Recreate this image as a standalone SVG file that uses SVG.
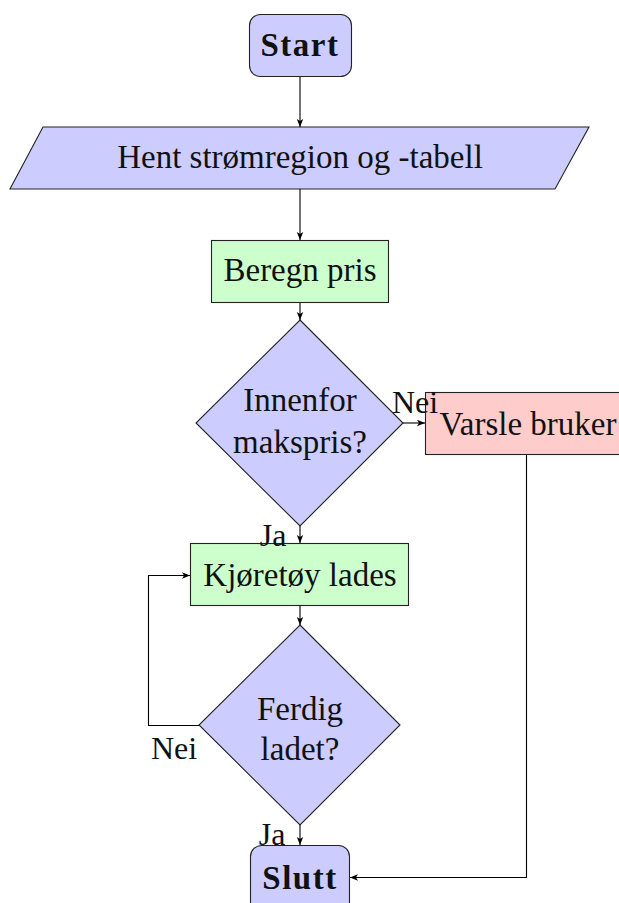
<svg xmlns="http://www.w3.org/2000/svg" width="619" height="903" viewBox="0 0 619 903">
  <defs>
    <marker id="arrow" viewBox="0 0 10 10" refX="10" refY="5" markerWidth="8" markerHeight="8" markerUnits="userSpaceOnUse" orient="auto">
      <path d="M0,1 L10,5 L0,9 L2.5,5 Z" fill="#000"/>
    </marker>
    <style>
      .node { stroke: #222; stroke-width: 1.1; }
      .blue { fill: #ccccff; }
      .green { fill: #ccffcc; }
      .red { fill: #ffcccc; }
      text { font-family: "Liberation Serif", "DejaVu Serif", serif; font-size: 33px; fill: #111; text-anchor: middle; }
      .bold { font-weight: bold; font-size: 33px; letter-spacing: 1.5px; }
      .edge { fill: none; stroke: #000; stroke-width: 1.1; marker-end: url(#arrow); }
      .lbl { font-size: 32px; }
    </style>
  </defs>

  <g id="start">
    <rect class="node blue" x="249.5" y="14.5" width="102" height="62" rx="11"/>
    <text class="bold" x="300" y="56">Start</text>
  </g>

  <g id="input">
    <polygon class="node blue" points="43,127 589,127 555,189 10,189"/>
    <text x="300" y="168">Hent strømregion og -tabell</text>
  </g>

  <g id="calc">
    <rect class="node green" x="211.5" y="240.5" width="177" height="62"/>
    <text x="300" y="281">Beregn pris</text>
  </g>

  <g id="check-price">
    <polygon class="node blue" points="300,320 403,423 300,526 196,423"/>
    <text x="300" y="411">Innenfor</text>
    <text x="300" y="453">makspris?</text>
  </g>

  <g id="notify">
    <rect class="node red" x="425.5" y="392.5" width="200" height="62"/>
    <text x="528" y="435">Varsle bruker</text>
  </g>

  <g id="charging">
    <rect class="node green" x="190.5" y="543.5" width="218" height="62"/>
    <text x="300" y="586">Kjøretøy lades</text>
  </g>

  <g id="check-done">
    <polygon class="node blue" points="300,625 400,725 300,825 199,725"/>
    <text x="300" y="720">Ferdig</text>
    <text x="300" y="760">ladet?</text>
  </g>

  <g id="end">
    <rect class="node blue" x="250.5" y="845.5" width="99" height="70" rx="11"/>
    <text class="bold" x="300" y="889">Slutt</text>
  </g>

  <g id="connectors">
    <line class="edge" x1="300" y1="77" x2="300" y2="127"/>
    <line class="edge" x1="300" y1="189" x2="300" y2="240"/>
    <line class="edge" x1="300" y1="303" x2="300" y2="320"/>
    <line class="edge" x1="403" y1="423" x2="425" y2="423"/>
    <line class="edge" x1="300" y1="526" x2="300" y2="543"/>
    <line class="edge" x1="300" y1="606" x2="300" y2="625"/>
    <polyline class="edge" points="199,725.5 148.5,725.5 148.5,575.5 190,575.5"/>
    <line class="edge" x1="300" y1="825" x2="300" y2="845"/>
    <polyline class="edge" points="526.5,455 526.5,877.5 350,877.5"/>
    <text class="lbl" x="415" y="413">Nei</text>
    <text class="lbl" x="273" y="546">Ja</text>
    <text class="lbl" x="174" y="759">Nei</text>
    <text class="lbl" x="272" y="845">Ja</text>
  </g>
</svg>
